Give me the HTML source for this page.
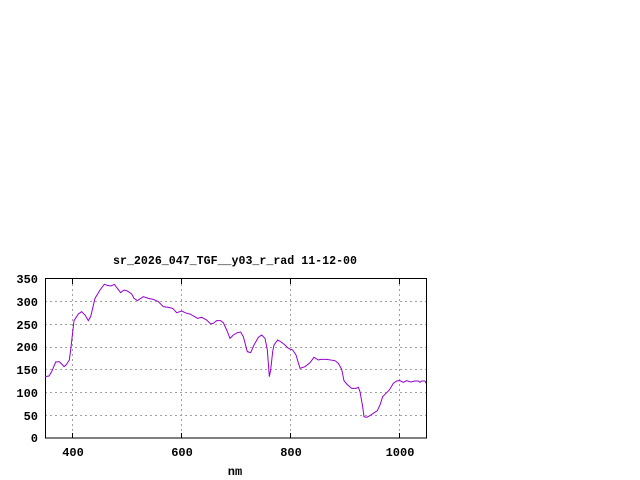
<!DOCTYPE html>
<html><head><meta charset="utf-8"><style>body{margin:0;background:#fff}svg{display:block}</style></head><body>
<svg width="640" height="480" xmlns="http://www.w3.org/2000/svg" font-family="Liberation Mono, monospace" font-size="12" font-weight="bold">
<rect width="640" height="480" fill="#fff"/>
<g stroke="#a0a0a0" stroke-dasharray="2,3" stroke-width="1">
<line x1="72.5" y1="279" x2="72.5" y2="438"/><line x1="181.5" y1="279" x2="181.5" y2="438"/><line x1="290.5" y1="279" x2="290.5" y2="438"/><line x1="399.5" y1="279" x2="399.5" y2="438"/>
<line x1="45" y1="415.5" x2="426" y2="415.5"/><line x1="45" y1="392.5" x2="426" y2="392.5"/><line x1="45" y1="369.5" x2="426" y2="369.5"/><line x1="45" y1="347.5" x2="426" y2="347.5"/><line x1="45" y1="324.5" x2="426" y2="324.5"/><line x1="45" y1="301.5" x2="426" y2="301.5"/>
</g>
<rect x="45.5" y="278.5" width="381" height="159.5" fill="none" stroke="#000"/>
<g stroke="#000">
<line x1="72.5" y1="438" x2="72.5" y2="433"/><line x1="181.5" y1="438" x2="181.5" y2="433"/><line x1="290.5" y1="438" x2="290.5" y2="433"/><line x1="399.5" y1="438" x2="399.5" y2="433"/>
<line x1="72.5" y1="279" x2="72.5" y2="284"/><line x1="181.5" y1="279" x2="181.5" y2="284"/><line x1="290.5" y1="279" x2="290.5" y2="284"/><line x1="399.5" y1="279" x2="399.5" y2="284"/>
</g>
<g text-anchor="end">
<text x="38" y="442">0</text><text x="38" y="420">50</text><text x="38" y="397">100</text><text x="38" y="374">150</text><text x="38" y="351">200</text><text x="38" y="329">250</text><text x="38" y="306">300</text><text x="38" y="283">350</text>
</g>
<g text-anchor="middle">
<text x="73" y="456">400</text><text x="182" y="456">600</text><text x="291" y="456">800</text><text x="400" y="456">1000</text>
<text x="235" y="475">nm</text>
</g>
<text x="113" y="264" textLength="244" lengthAdjust="spacingAndGlyphs">sr_2026_047_TGF__y03_r_rad 11-12-00</text>
<g transform="translate(0,250) scale(0.33333)">
<polyline fill="none" stroke="#9400d3" stroke-width="3" points="135,380 147,378 155,365 167,336 178,335 188,345 192,350 198,345 208,330 212,300 222,212 235,192 245,185 255,195 265,212 272,200 285,145 300,120 313,103 322,106 333,108 343,103 352,115 362,128 372,120 382,123 395,132 402,145 412,152 430,140 445,145 460,148 475,155 490,170 505,172 518,175 530,188 545,183 560,190 570,192 580,198 593,205 605,202 620,210 632,222 640,220 650,212 662,212 670,218 680,240 690,265 700,255 712,248 722,246 730,260 742,305 752,308 762,285 775,262 785,255 795,265 802,300 808,380 812,360 818,305 822,285 833,270 842,275 855,285 865,295 878,300 888,315 900,355 915,350 930,338 942,322 955,330 962,328 980,328 1005,332 1015,340 1025,358 1032,392 1040,402 1055,415 1068,415 1075,412 1080,425 1088,470 1092,500 1100,502 1108,498 1120,490 1132,482 1140,465 1148,440 1158,430 1168,420 1180,400 1190,393 1200,392 1210,397 1220,392 1232,396 1245,393 1255,393 1260,397 1265,393 1275,393 1278,400"/>
</g>
</svg>
</body></html>
